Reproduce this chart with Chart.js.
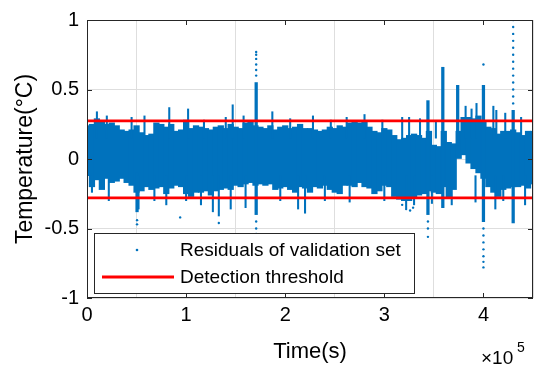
<!DOCTYPE html>
<html>
<head>
<meta charset="utf-8">
<script src="https://cdn.jsdelivr.net/npm/chart.js@4.4.0/dist/chart.umd.min.js"></script>
<style>
  html, body { margin: 0; padding: 0; background: #fff; }
  #wrap { width: 550px; height: 375px; }
</style>
</head>
<body>
<div id="wrap"><canvas id="chart" width="550" height="375"></canvas></div>
<script>
// residual band, read every 5000 s (lower / upper edge of the dense cloud)
const times = [
  0, 5000, 10000, 15000, 20000, 25000, 30000, 35000, 40000, 45000,
  50000, 55000, 60000, 65000, 70000, 75000, 80000, 85000, 90000, 95000,
  100000, 105000, 110000, 115000, 120000, 125000, 130000, 135000, 140000, 145000,
  150000, 155000, 160000, 165000, 170000, 175000, 180000, 185000, 190000, 195000,
  200000, 205000, 210000, 215000, 220000, 225000, 230000, 235000, 240000, 245000,
  250000, 255000, 260000, 265000, 270000, 275000, 280000, 285000, 290000, 295000,
  300000, 305000, 310000, 315000, 320000, 325000, 330000, 335000, 340000, 345000,
  350000, 355000, 360000, 365000, 370000, 375000, 380000, 385000, 390000, 395000,
  400000, 405000, 410000, 415000, 420000, 425000, 430000, 435000, 440000, 445000,
  450000
];
const upper = [
  0.24, 0.25, 0.29, 0.27, 0.25, 0.26, 0.24, 0.21, 0.2, 0.21, 0.24, 0.19, 0.17, 0.18, 0.26, 0.25, 0.23, 0.25, 0.2, 0.21, 0.28, 0.22, 0.24,
  0.23, 0.22, 0.21, 0.23, 0.24, 0.22, 0.25, 0.23, 0.22, 0.26, 0.27, 0.24, 0.23, 0.22, 0.24, 0.21, 0.23, 0.24, 0.22, 0.23, 0.25, 0.22,
  0.22, 0.21, 0.2, 0.21, 0.23, 0.22, 0.24, 0.23, 0.26, 0.27, 0.26, 0.27, 0.23, 0.2, 0.19, 0.22, 0.21, 0.17, 0.14, 0.15, 0.17, 0.18,
  0.17, 0.15, 0.2, 0.1, 0.09, 0.2, 0.12, 0.11, 0.2, 0.3, 0.3, 0.29, 0.31, 0.27, 0.23, 0.22, 0.18, 0.2, 0.2, 0.21, 0.19, 0.17, 0.2, 0.2
];
const lower = [
  -0.12, -0.2, -0.15, -0.22, -0.14, -0.17, -0.16, -0.14, -0.17, -0.19, -0.24, -0.23, -0.2, -0.22, -0.21, -0.2, -0.25, -0.21, -0.19, -0.2, -0.25, -0.27, -0.24,
  -0.24, -0.23, -0.26, -0.23, -0.22, -0.21, -0.22, -0.19, -0.2, -0.18, -0.17, -0.19, -0.18, -0.19, -0.18, -0.22, -0.21, -0.2, -0.22, -0.24, -0.2, -0.21,
  -0.24, -0.2, -0.21, -0.19, -0.22, -0.24, -0.25, -0.19, -0.19, -0.2, -0.17, -0.2, -0.21, -0.25, -0.23, -0.19, -0.2, -0.27, -0.29, -0.3, -0.3, -0.28,
  -0.26, -0.25, -0.23, -0.24, -0.25, -0.2, -0.28, -0.22, 0.0, 0.03, -0.03, -0.07, -0.1, -0.14, -0.2, -0.24, -0.27, -0.22, -0.21, -0.2, -0.2, -0.19, -0.21, -0.18
];

// thin outliers sticking out of the band
const grassTimes = [
  10000, 20000, 45000, 58000, 83000, 102000, 118000, 140000, 147000, 158000, 187000, 205000, 228000, 246000,
  262000, 280000, 298000, 318000, 325000, 336000, 352000, 382000, 388000, 393000, 410000, 413000, 422000, 438000,
  5000, 22000, 52000, 68000, 80000, 100000, 115000, 127000, 133000, 145000, 160000, 195000, 213000, 220000,
  240000, 265000, 300000, 322000, 330000, 348000, 368000, 392000, 412000, 420000, 442000
];
const grassLow = [
  0.15, 0.15, 0.15, 0.15, 0.15, 0.15, 0.15, 0.15, 0.15, 0.15, 0.15, 0.15, 0.15, 0.15,
  0.15, 0.15, 0.15, 0.15, 0.15, 0.15, 0.15, 0.15, 0.15, 0.15, 0.15, 0.15, 0.15, 0.15,
  -0.24, -0.3, -0.36, -0.3, -0.33, -0.3, -0.33, -0.38, -0.41, -0.36, -0.35, -0.3, -0.36, -0.39,
  -0.3, -0.31, -0.3, -0.35, -0.33, -0.32, -0.33, -0.31, -0.36, -0.3, -0.33
];
const grassHigh = [
  0.34, 0.31, 0.3, 0.31, 0.37, 0.36, 0.28, 0.3, 0.39, 0.31, 0.34, 0.29, 0.31, 0.28,
  0.3, 0.32, 0.28, 0.3, 0.3, 0.29, 0.27, 0.38, 0.36, 0.4, 0.38, 0.35, 0.33, 0.3,
  -0.12, -0.12, -0.12, -0.12, -0.12, -0.12, -0.12, -0.12, -0.12, -0.12, -0.12, -0.12, -0.12, -0.12,
  -0.12, -0.12, -0.12, -0.12, -0.12, -0.12, -0.12, -0.12, -0.12, -0.12, -0.12
];

// large spikes
const spikeTimes = [50500, 170700, 344000, 359000, 374000, 400000, 430000];
const spikeLow   = [-0.38, -0.4, -0.4, -0.35, 0.1, -0.45, -0.46];
const spikeHigh  = [-0.1, 0.55, 0.42, 0.66, 0.53, 0.53, 0.35];

// isolated points
const dotTimes = [
  170700, 170700, 170700, 170700, 170700, 170700, 170700, 170700, 170700, 170700,
  50500, 50500, 94000, 133000, 344000, 344000, 344000,
  400000, 400000, 400000, 400000, 400000, 400000, 400000, 400000,
  430000, 430000, 430000, 430000, 430000, 430000, 430000, 430000, 430000, 430000, 430000, 430000, 430000,
  322000, 326000, 329000, 318000
];
const dotValues = [
  0.6, 0.64, 0.68, 0.72, 0.75, 0.77, -0.45, -0.5, -0.54, -0.58,
  -0.44, -0.47, -0.42, -0.46, -0.45, -0.5, -0.56,
  0.68, -0.5, -0.55, -0.6, -0.65, -0.7, -0.74, -0.78,
  0.4, 0.45, 0.5, 0.55, 0.6, 0.65, 0.7, 0.75, 0.8, 0.85, 0.9, 0.95, 1.0,
  -0.36, -0.37, -0.35, -0.33
];

const thresholdHigh = 0.275;
const thresholdLow = -0.28;

const xTicks = [0, 100000, 200000, 300000, 400000];
const xTickLabels = ['0', '1', '2', '3', '4'];
const yTicks = [-1, -0.5, 0, 0.5, 1];
const yTickLabels = ['-1', '-0.5', '0', '0.5', '1'];

const legendLabels = ['Residuals of validation set', 'Detection threshold'];

const BLUE = '#0072BD';
const RED = '#FF0000';
const FONT = "'Liberation Sans', Arial, sans-serif";

let chart = null;

const framePlugin = {
  id: 'frame',
  afterDraw(c) {
    const ctx = c.ctx;
    const a = c.chartArea;
    const xs = c.scales.x;
    const ys = c.scales.y;
    ctx.save();
    ctx.strokeStyle = '#262626';
    ctx.lineWidth = 1;
    ctx.strokeRect(a.left + 0.5, a.top + 0.5, a.right - a.left - 1, a.bottom - a.top - 1);
    ctx.beginPath();
    xTicks.forEach(v => {
      const px = Math.round(xs.getPixelForValue(v)) + 0.5;
      ctx.moveTo(px, a.bottom); ctx.lineTo(px, a.bottom - 5);
      ctx.moveTo(px, a.top); ctx.lineTo(px, a.top + 5);
    });
    yTicks.forEach(v => {
      const py = Math.round(ys.getPixelForValue(v)) + 0.5;
      ctx.moveTo(a.left, py); ctx.lineTo(a.left + 5, py);
      ctx.moveTo(a.right, py); ctx.lineTo(a.right - 5, py);
    });
    ctx.stroke();

    // legend box
    const lx = 94, ly = 233, lw = 320, lh = 60;
    ctx.fillStyle = '#fff';
    ctx.fillRect(lx, ly, lw, lh);
    ctx.strokeStyle = '#262626';
    ctx.strokeRect(lx + 0.5, ly + 0.5, lw, lh);
    ctx.fillStyle = BLUE;
    ctx.beginPath();
    ctx.arc(137, 250, 1.3, 0, Math.PI * 2);
    ctx.fill();
    ctx.strokeStyle = RED;
    ctx.lineWidth = 2.8;
    ctx.beginPath();
    ctx.moveTo(102, 277); ctx.lineTo(174, 277);
    ctx.stroke();
    ctx.fillStyle = '#000';
    ctx.font = '19px ' + FONT;
    ctx.textBaseline = 'middle';
    ctx.textAlign = 'left';
    ctx.fillText(legendLabels[0], 180, 251);
    ctx.fillText(legendLabels[1], 180, 278);

    // exponent label
    ctx.font = '19px ' + FONT;
    ctx.textBaseline = 'alphabetic';
    ctx.fillText('\u00D710', 481, 364);
    ctx.font = '14px ' + FONT;
    ctx.fillText('5', 517, 352);
    ctx.restore();
  }
};

function initChart() {
  const ctx = document.getElementById('chart').getContext('2d');
  chart = new Chart(ctx, {
    type: 'bar',
    data: {
      datasets: [
        {
          type: 'line',
          label: 'Detection threshold',
          data: [{x: 0, y: thresholdHigh}, {x: 450000, y: thresholdHigh}],
          borderColor: RED,
          borderWidth: 2.8,
          pointRadius: 0,
          order: 0
        },
        {
          type: 'line',
          label: 'Detection threshold (low)',
          data: [{x: 0, y: thresholdLow}, {x: 450000, y: thresholdLow}],
          borderColor: RED,
          borderWidth: 2.8,
          pointRadius: 0,
          order: 0
        },
        {
          label: 'Residuals of validation set',
          data: times.map((t, i) => ({x: t, y: [lower[i], upper[i]]})),
          backgroundColor: BLUE,
          borderWidth: 0,
          barThickness: 5.6,
          grouped: false,
          order: 3
        },
        {
          label: 'grass',
          data: grassTimes.map((t, i) => ({x: t, y: [grassLow[i], grassHigh[i]]})),
          backgroundColor: BLUE,
          borderWidth: 0,
          barThickness: 1.4,
          grouped: false,
          order: 2
        },
        {
          label: 'spikes',
          data: spikeTimes.map((t, i) => ({x: t, y: [spikeLow[i], spikeHigh[i]]})),
          backgroundColor: BLUE,
          borderWidth: 0,
          barThickness: 2.6,
          grouped: false,
          order: 2
        },
        {
          type: 'scatter',
          label: 'dots',
          data: dotTimes.map((t, i) => ({x: t, y: dotValues[i]})),
          backgroundColor: BLUE,
          borderWidth: 0,
          pointRadius: 1.2,
          order: 1
        }
      ]
    },
    options: {
      responsive: false,
      animation: false,
      layout: { padding: { left: 0, right: 17, top: 20, bottom: 0 } },
      plugins: {
        legend: { display: false },
        tooltip: { enabled: false }
      },
      scales: {
        x: {
          type: 'linear',
          min: 0,
          max: 450000,
          offset: false,
          afterBuildTicks: s => { s.ticks = xTicks.map(v => ({value: v})); },
          afterFit: s => { s.height = 77; },
          ticks: {
            callback: (v) => xTickLabels[xTicks.indexOf(v)],
            color: '#000',
            font: { family: FONT, size: 20 },
            padding: 5,
            maxRotation: 0
          },
          grid: { color: '#dedede', drawTicks: false },
          border: { display: false },
          title: {
            display: true,
            text: 'Time(s)',
            color: '#000',
            font: { family: FONT, size: 22 },
            padding: { top: 0, bottom: 10 }
          }
        },
        y: {
          min: -1,
          max: 1,
          afterBuildTicks: s => { s.ticks = yTicks.map(v => ({value: v})); },
          afterFit: s => { s.width = 87; },
          ticks: {
            callback: (v) => yTickLabels[yTicks.indexOf(v)],
            color: '#000',
            font: { family: FONT, size: 20 },
            padding: 8
          },
          grid: { color: '#dedede', drawTicks: false },
          border: { display: false },
          title: {
            display: true,
            text: 'Temperature(\u00B0C)',
            color: '#000',
            font: { family: FONT, size: 23 },
            padding: { top: 12, bottom: 0 }
          }
        }
      }
    },
    plugins: [framePlugin]
  });
}

initChart();
</script>
</body>
</html>
